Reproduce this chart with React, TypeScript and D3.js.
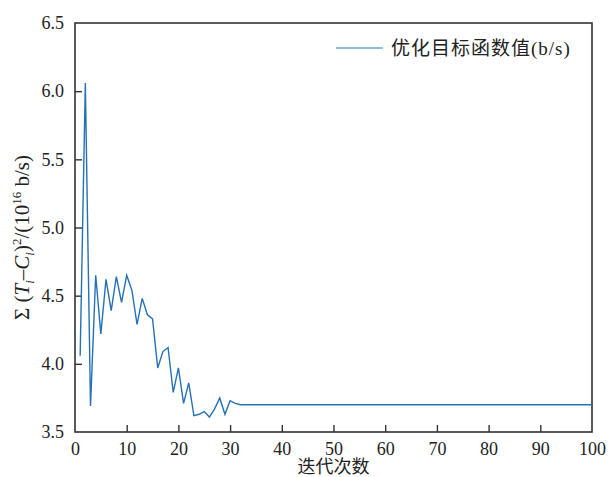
import React, { useEffect, useRef } from 'react';
import * as d3 from 'd3';

const iterations = [
  1, 2, 3, 4, 5, 6, 7, 8, 9, 10, 11, 12, 13, 14, 15, 16, 17, 18, 19, 20,
  21, 22, 23, 24, 25, 26, 27, 28, 29, 30, 31, 32, 33, 34, 35, 36, 37, 38, 39, 40,
  41, 42, 43, 44, 45, 46, 47, 48, 49, 50, 51, 52, 53, 54, 55, 56, 57, 58, 59, 60,
  61, 62, 63, 64, 65, 66, 67, 68, 69, 70, 71, 72, 73, 74, 75, 76, 77, 78, 79, 80,
  81, 82, 83, 84, 85, 86, 87, 88, 89, 90, 91, 92, 93, 94, 95, 96, 97, 98, 99, 100,
];

const objective = [
  4.06, 6.06, 3.69, 4.65, 4.22, 4.62, 4.39, 4.64, 4.45, 4.65,
  4.54, 4.29, 4.48, 4.36, 4.33, 3.97, 4.09, 4.12, 3.79, 3.97,
  3.71, 3.86, 3.62, 3.63, 3.65, 3.61, 3.67, 3.75, 3.63, 3.73,
  3.71, 3.70, 3.70, 3.70, 3.70, 3.70, 3.70, 3.70, 3.70, 3.70,
  3.70, 3.70, 3.70, 3.70, 3.70, 3.70, 3.70, 3.70, 3.70, 3.70,
  3.70, 3.70, 3.70, 3.70, 3.70, 3.70, 3.70, 3.70, 3.70, 3.70,
  3.70, 3.70, 3.70, 3.70, 3.70, 3.70, 3.70, 3.70, 3.70, 3.70,
  3.70, 3.70, 3.70, 3.70, 3.70, 3.70, 3.70, 3.70, 3.70, 3.70,
  3.70, 3.70, 3.70, 3.70, 3.70, 3.70, 3.70, 3.70, 3.70, 3.70,
  3.70, 3.70, 3.70, 3.70, 3.70, 3.70, 3.70, 3.70, 3.70, 3.70,
];

const xTicks = [0, 10, 20, 30, 40, 50, 60, 70, 80, 90, 100];
const yTicks = [3.5, 4.0, 4.5, 5.0, 5.5, 6.0, 6.5];
const legendLabel = '优化目标函数值(b/s)';
const xLabel = '迭代次数';

const FONT = '"Liberation Serif", "DejaVu Serif", serif';
const CJK = '"Liberation Serif", "Noto Sans CJK SC", serif';

export default function App() {
  const svgRef = useRef<SVGSVGElement>(null);

  useEffect(() => {
    if (!svgRef.current) return;
    const width = 610;
    const height = 477;
    const margin = { top: 23, right: 18, bottom: 45, left: 75 };

    const svg = d3.select(svgRef.current);
    svg.selectAll('*').remove();

    const x = d3.scaleLinear().domain([0, 100]).range([margin.left, width - margin.right]);
    const y = d3.scaleLinear().domain([3.5, 6.5]).range([height - margin.bottom, margin.top]);

    const axisColor = '#333';

    // frame
    svg.append('rect')
      .attr('x', x(0)).attr('y', y(6.5))
      .attr('width', x(100) - x(0)).attr('height', y(3.5) - y(6.5))
      .attr('fill', 'none').attr('stroke', axisColor).attr('stroke-width', 1.6);

    // bottom axis
    const gx = svg.append('g')
      .attr('transform', `translate(0,${y(3.5)})`)
      .call(d3.axisBottom(x).tickValues(xTicks).tickSizeInner(-7).tickSizeOuter(0).tickPadding(10).tickFormat(d3.format('d')))
      .attr('font-family', FONT).attr('font-size', 18);
    gx.select('.domain').remove();
    gx.selectAll('.tick line').attr('stroke', axisColor).attr('stroke-width', 1.4);
    gx.selectAll('.tick text').attr('fill', '#222');

    // left axis
    const gy = svg.append('g')
      .attr('transform', `translate(${x(0)},0)`)
      .call(d3.axisLeft(y).tickValues(yTicks).tickSizeInner(-7).tickSizeOuter(0).tickPadding(11).tickFormat(d3.format('.1f')))
      .attr('font-family', FONT).attr('font-size', 18);
    gy.select('.domain').remove();
    gy.selectAll('.tick line').attr('stroke', axisColor).attr('stroke-width', 1.4);
    gy.selectAll('.tick text').attr('fill', '#222');

    // no tick marks at the frame corners
    gx.selectAll<SVGGElement, number>('.tick').filter(d => d === 0 || d === 100).select('line').remove();
    gy.selectAll<SVGGElement, number>('.tick').filter(d => d === 3.5 || d === 6.5).select('line').remove();

    // series line
    const line = d3.line<number>()
      .x((_, i) => x(iterations[i]))
      .y(d => y(d));
    svg.append('path')
      .datum(objective)
      .attr('fill', 'none')
      .attr('stroke', '#2471b6')
      .attr('stroke-width', 1.4)
      .attr('d', line);

    // legend
    svg.append('line')
      .attr('x1', 336).attr('x2', 383).attr('y1', 48).attr('y2', 48)
      .attr('stroke', '#6fa5d2').attr('stroke-width', 1.4);
    svg.append('text')
      .attr('x', 391).attr('y', 55)
      .attr('font-family', CJK).attr('font-size', 19).attr('letter-spacing', 1).attr('fill', '#222')
      .text(legendLabel);

    // x label
    svg.append('text')
      .attr('x', (x(0) + x(100)) / 2).attr('y', 473)
      .attr('text-anchor', 'middle')
      .attr('font-family', CJK).attr('font-size', 18).attr('fill', '#222')
      .text(xLabel);

    // y label
    const yl = svg.append('text')
      .attr('transform', `translate(29,${(y(3.5) + y(6.5)) / 2 + 10}) rotate(-90)`)
      .attr('text-anchor', 'middle')
      .attr('font-family', FONT).attr('font-size', 21).attr('fill', '#222');
    yl.append('tspan').text('Σ (');
    yl.append('tspan').attr('font-style', 'italic').text('T');
    yl.append('tspan').attr('font-style', 'italic').attr('font-size', 13).attr('dy', 5).text('i');
    yl.append('tspan').attr('dy', -5).text('–');
    yl.append('tspan').attr('font-style', 'italic').text('C');
    yl.append('tspan').attr('font-style', 'italic').attr('font-size', 13).attr('dy', 5).text('i');
    yl.append('tspan').attr('dy', -5).text(')');
    yl.append('tspan').attr('font-size', 13).attr('dy', -8).text('2');
    yl.append('tspan').attr('dy', 8).text('/(10');
    yl.append('tspan').attr('font-size', 13).attr('dy', -8).text('16');
    yl.append('tspan').attr('dy', 8).text(' b/s)');
  }, []);

  return (
    <svg
      ref={svgRef}
      width={610}
      height={477}
      style={{ position: 'absolute', left: 0, top: 0, background: '#fff' }}
    />
  );
}
